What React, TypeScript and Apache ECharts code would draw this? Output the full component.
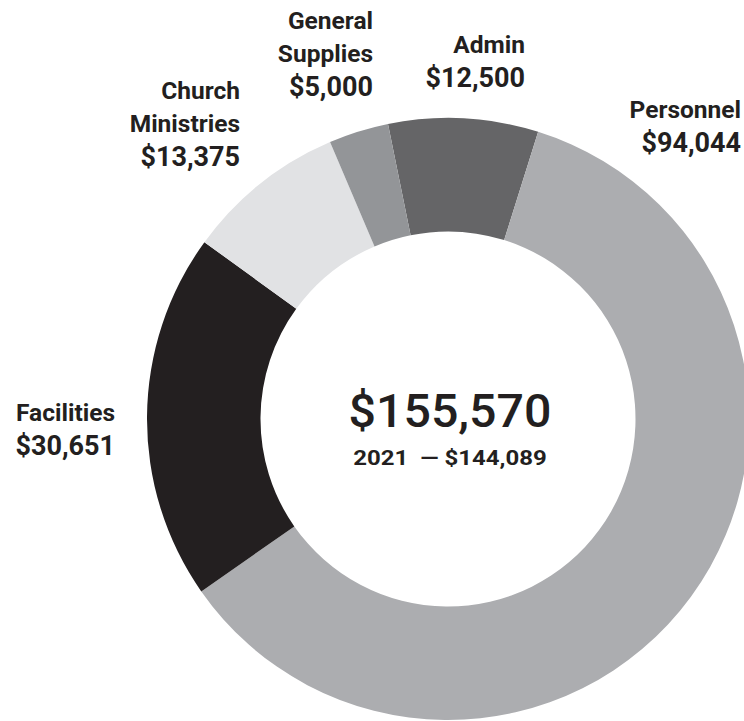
import React, { useEffect, useRef } from "react";
import * as echarts from "echarts";

const categories = ["Admin", "Personnel", "Facilities", "Church Ministries", "General Supplies"];
const values = [12500, 94044, 30651, 13375, 5000];
const colors = ["#656567", "#acadb0", "#231f20", "#e1e2e4", "#939598"];
const totalLabel = "$155,570";
const priorLabel = "2021  \u2014 $144,089";

// label anchor: right edge x, top y of the label block (per data index)
const labelAnchors: [number, number][] = [
  [525, 28],
  [741, 93],
  [115, 396],
  [240, 74],
  [373, 4],
];

const FONT = "Roboto, 'Noto Sans', sans-serif";

export default function App() {
  const ref = useRef<HTMLDivElement>(null);
  useEffect(() => {
    if (!ref.current) return;
    const chart = echarts.init(ref.current, undefined, { renderer: "svg" });
    const data = categories.map((name, i) => ({
      name,
      value: values[i],
      itemStyle: { color: colors[i] },
    }));
    chart.setOption({
      animation: false,
      backgroundColor: "#ffffff",
      series: [
        {
          type: "pie",
          center: [448, 419],
          radius: [187.5, 301],
          startAngle: 101.5,
          clockwise: true,
          avoidLabelOverlap: false,
          silent: true,
          data,
          labelLine: { show: false },
          label: {
            show: true,
            position: "outside",
            color: "#231f20",
            fontFamily: FONT,
            formatter: (p: any) => {
              const words = String(p.name).split(" ").map((w: string) => `{n|${w}}`);
              return words.join("\n") + `\n{v|$${Number(p.value).toLocaleString("en-US")}}`;
            },
            rich: {
              n: {
                fontFamily: FONT,
                fontWeight: 700,
                fontSize: 24.5,
                lineHeight: 33,
                color: "#231f20",
                align: "right",
              },
              v: {
                fontFamily: FONT,
                fontWeight: 700,
                fontSize: 27,
                lineHeight: 34,
                color: "#231f20",
                align: "right",
              },
            },
          },
          labelLayout: (params: any) => {
            const a = labelAnchors[params.dataIndex];
            return { x: a[0], y: a[1], align: "right", verticalAlign: "top" };
          },
        },
      ],
      graphic: [
        {
          type: "text",
          x: 450,
          y: 411,
          scaleX: 1.05,
          style: {
            text: totalLabel,
            fontFamily: FONT,
            fontWeight: 500,
            fontSize: 46,
            fill: "#231f20",
            textAlign: "center",
            textVerticalAlign: "middle",
          },
        },
        {
          type: "text",
          x: 450,
          y: 458,
          scaleX: 1.2,
          style: {
            text: priorLabel,
            fontFamily: FONT,
            fontWeight: 700,
            fontSize: 20,
            fill: "#231f20",
            textAlign: "center",
            textVerticalAlign: "middle",
          },
        },
      ],
    });
    return () => chart.dispose();
  }, []);
  return (
    <div
      ref={ref}
      style={{ position: "absolute", left: 0, top: 0, width: 744, height: 721 }}
    />
  );
}
